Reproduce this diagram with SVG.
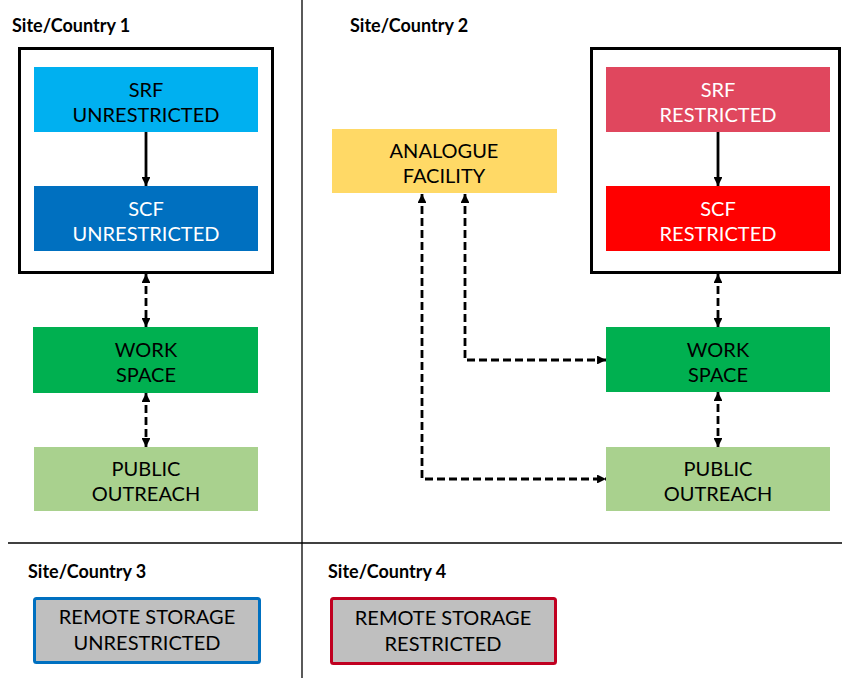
<svg xmlns="http://www.w3.org/2000/svg" width="842" height="678" viewBox="0 0 842 678">
<style>
.t{font-family:Lato,"Open Sans","Liberation Sans",sans-serif;font-size:20px;text-anchor:middle;fill:#000}
.w{fill:#fff}
.h{font-family:Lato,"Open Sans","Liberation Sans",sans-serif;font-size:18px;font-weight:bold;fill:#000}
.frame{fill:none;stroke:#000;stroke-width:3}
.sol{fill:none;stroke:#000;stroke-width:2.8}
.dash{fill:none;stroke:#000;stroke-width:2.8;stroke-dasharray:8 4}
.div{stroke:#000;stroke-width:1.3}
</style>
<defs>
<marker id="ah" viewBox="0 0 10 10" refX="10" refY="5" markerWidth="3.2" markerHeight="3.2" orient="auto-start-reverse" markerUnits="strokeWidth">
<path d="M0,0 L10,5 L0,10 z" fill="#000"/>
</marker>
</defs>
<rect width="842" height="678" fill="#fff"/>
<g id="dividers">
<line class="div" x1="302" y1="0" x2="302" y2="678"/>
<line class="div" x1="8" y1="543" x2="842" y2="543"/>
</g>
<g id="labels">
<text class="h" x="12" y="32">Site/Country 1</text>
<text class="h" x="350" y="32">Site/Country 2</text>
<text class="h" x="28" y="578">Site/Country 3</text>
<text class="h" x="328" y="578">Site/Country 4</text>
</g>
<g id="frame1"><rect class="frame" x="19.5" y="48.5" width="253" height="224"/></g>
<g id="frame2"><rect class="frame" x="591.5" y="48.5" width="248" height="224"/></g>
<g id="srf-unrestricted">
<rect x="34" y="67" width="224" height="65" fill="#00B0F0"/>
<text class="t" x="146" y="97">SRF</text><text class="t" x="146" y="122">UNRESTRICTED</text>
</g>
<g id="scf-unrestricted">
<rect x="34" y="186" width="224" height="65" fill="#0070C0"/>
<text class="t w" x="146" y="216">SCF</text><text class="t w" x="146" y="241">UNRESTRICTED</text>
</g>
<g id="work-space-1">
<rect x="33" y="327" width="225" height="66" fill="#00B050"/>
<text class="t" x="146" y="357">WORK</text><text class="t" x="146" y="382">SPACE</text>
</g>
<g id="public-outreach-1">
<rect x="34" y="447" width="224" height="64" fill="#A9D18E"/>
<text class="t" x="146" y="476">PUBLIC</text><text class="t" x="146" y="501">OUTREACH</text>
</g>
<g id="analogue-facility">
<rect x="332" y="129" width="225" height="64" fill="#FFD966"/>
<text class="t" x="444" y="158">ANALOGUE</text><text class="t" x="444" y="183">FACILITY</text>
</g>
<g id="srf-restricted">
<rect x="606" y="67" width="224" height="65" fill="#E0475E"/>
<text class="t w" x="718" y="97">SRF</text><text class="t w" x="718" y="122">RESTRICTED</text>
</g>
<g id="scf-restricted">
<rect x="606" y="186" width="224" height="65" fill="#FF0000"/>
<text class="t w" x="718" y="216">SCF</text><text class="t w" x="718" y="241">RESTRICTED</text>
</g>
<g id="work-space-2">
<rect x="606" y="327" width="224" height="65" fill="#00B050"/>
<text class="t" x="718" y="357">WORK</text><text class="t" x="718" y="382">SPACE</text>
</g>
<g id="public-outreach-2">
<rect x="606" y="447" width="224" height="64" fill="#A9D18E"/>
<text class="t" x="718" y="476">PUBLIC</text><text class="t" x="718" y="501">OUTREACH</text>
</g>
<g id="remote-storage-unrestricted">
<rect x="34.5" y="598.5" width="225" height="64" rx="2" fill="#BFBFBF" stroke="#0070C0" stroke-width="3"/>
<text class="t" x="147" y="624">REMOTE STORAGE</text><text class="t" x="147" y="650">UNRESTRICTED</text>
</g>
<g id="remote-storage-restricted">
<rect x="331.5" y="598.5" width="224" height="65" rx="2" fill="#BFBFBF" stroke="#C00020" stroke-width="3"/>
<text class="t" x="443" y="625">REMOTE STORAGE</text><text class="t" x="443" y="651">RESTRICTED</text>
</g>
<g id="connectors">
<line class="sol" x1="146" y1="132" x2="146" y2="186" marker-end="url(#ah)"/>
<line class="sol" x1="718" y1="132" x2="718" y2="186" marker-end="url(#ah)"/>
<line class="dash" x1="146" y1="274" x2="146" y2="327" marker-start="url(#ah)" marker-end="url(#ah)"/>
<line class="dash" x1="146" y1="393" x2="146" y2="447" marker-start="url(#ah)" marker-end="url(#ah)"/>
<line class="dash" x1="718" y1="274" x2="718" y2="327" marker-start="url(#ah)" marker-end="url(#ah)"/>
<line class="dash" x1="718" y1="392" x2="718" y2="447" marker-start="url(#ah)" marker-end="url(#ah)"/>
<polyline class="dash" points="465,194 465,360 606,360" marker-start="url(#ah)" marker-end="url(#ah)"/>
<polyline class="dash" points="422,194 422,479 606,479" marker-start="url(#ah)" marker-end="url(#ah)"/>
</g>
</svg>
